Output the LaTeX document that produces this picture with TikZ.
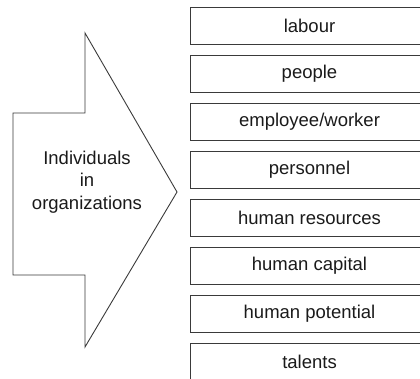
\documentclass[tikz,border=0pt]{standalone}
\usepackage{fontspec}
\setmainfont{Liberation Sans}
\usepackage{tikz}

\definecolor{linegray}{HTML}{3A3A3A}
\definecolor{textgray}{HTML}{1A1A1A}

\begin{document}
\begin{tikzpicture}[x=1pt, y=-1pt]
		\tikzset{term/.style={draw = linegray, line width = 0.9pt, minimum width = 239pt, minimum height = 37pt, inner sep = 0pt, text = textgray, font = \fontsize{18.5}{23}\selectfont}}
		\tikzset{bigarrow/.style={draw = linegray, line width = 0.9pt, line join = miter}}
		\useasboundingbox (0, 0) rectangle (420, 379);
		\clip (0, 0) rectangle (420, 379);
					%arrow
					\draw[bigarrow] (13, 113) -- (85, 113) -- (85, 33) -- (177, 192) -- (85, 347) -- (85, 275) -- (13, 275) -- cycle;
					\node[align = center, text = textgray, font = \fontsize{18.5}{22.5}\selectfont] (indiv) at (87, 182) {Individuals\\in\\organizations};
					%terms
					\node[term] (labour) at (309.5, 25.5) {labour};
					\node[term] (people) at (309.5, 73.5) {people};
					\node[term] (employee) at (309.5, 121.5) {employee/worker};
					\node[term] (personnel) at (309.5, 169.5) {personnel};
					\node[term] (resources) at (309.5, 217.5) {human resources};
					\node[term] (capital) at (309.5, 265.5) {human capital};
					\node[term] (potential) at (309.5, 313.5) {human potential};
					\node[term] (talents) at (309.5, 361.5) {talents};
					
					\end{tikzpicture}
\end{document}
